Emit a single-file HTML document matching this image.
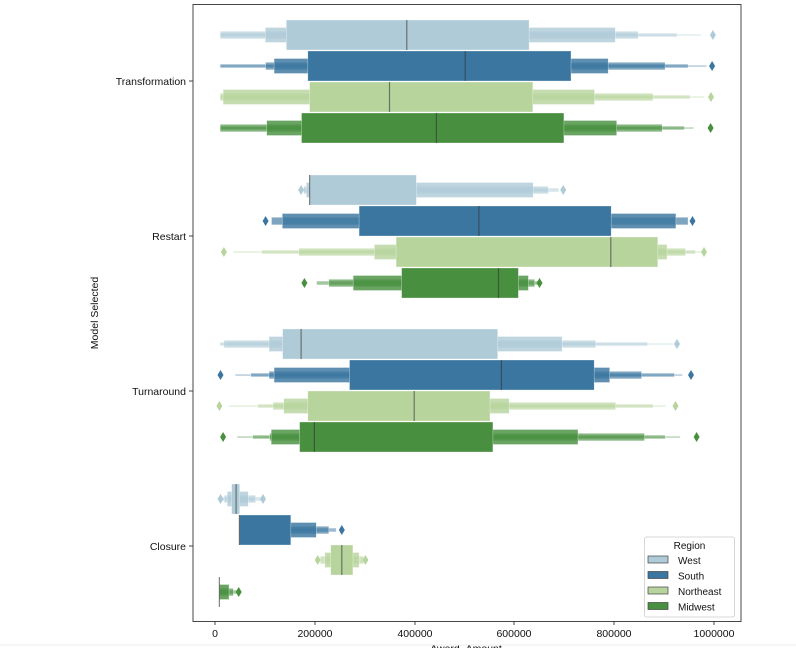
<!DOCTYPE html>
<html><head><meta charset="utf-8"><style>
html,body{margin:0;padding:0;background:#fff;}
svg{display:block;font-family:"Liberation Sans","DejaVu Sans",sans-serif;}
</style></head><body>
<svg id="s" width="796" height="648" viewBox="0 0 796 648" xmlns="http://www.w3.org/2000/svg">
<rect x="0" y="0" width="796" height="648" fill="#fff"/>
<g id="plot"></g>
<rect x="193" y="4.5" width="548" height="617" fill="none" stroke="#333" stroke-width="0.9"/>
<g font-size="10.5" fill="#111" text-anchor="end">
<text x="186" y="85">Transformation</text>
<text x="186" y="240">Restart</text>
<text x="186" y="395">Turnaround</text>
<text x="186" y="550">Closure</text>
</g>
<g stroke="#333" stroke-width="0.9">
<line x1="189" y1="81" x2="193" y2="81"/><line x1="189" y1="236" x2="193" y2="236"/>
<line x1="189" y1="391" x2="193" y2="391"/><line x1="189" y1="546" x2="193" y2="546"/>
<line x1="215" y1="621" x2="215" y2="625"/><line x1="315" y1="621" x2="315" y2="625"/>
<line x1="415" y1="621" x2="415" y2="625"/><line x1="514" y1="621" x2="514" y2="625"/>
<line x1="614" y1="621" x2="614" y2="625"/><line x1="714" y1="621" x2="714" y2="625"/>
</g>
<g font-size="10.5" fill="#111" text-anchor="middle">
<text x="215" y="637">0</text><text x="315" y="637">200000</text><text x="415" y="637">400000</text>
<text x="514" y="637">600000</text><text x="614" y="637">800000</text><text x="714" y="637">1000000</text>
<text x="466" y="652">Award_Amount</text>
<text transform="translate(98,313) rotate(-90)">Model Selected</text>
</g>
<g>
<rect x="644.5" y="537" width="90" height="80" rx="2" fill="#fff" fill-opacity="0.85" stroke="#ccc" stroke-width="0.8"/>
<text x="689.5" y="549" font-size="10" text-anchor="middle" fill="#111">Region</text>
<rect x="648" y="556" width="20" height="7" fill="#b0cbd8" stroke="#444" stroke-width="0.7"/>
<rect x="648" y="571.5" width="20" height="7" fill="#3a76a0" stroke="#444" stroke-width="0.7"/>
<rect x="648" y="587" width="20" height="7" fill="#b7d49d" stroke="#444" stroke-width="0.7"/>
<rect x="648" y="602.5" width="20" height="7" fill="#48903f" stroke="#444" stroke-width="0.7"/>
<g font-size="10" fill="#111">
<text x="678" y="564">West</text><text x="678" y="579.5">South</text>
<text x="678" y="595">Northeast</text><text x="678" y="610.5">Midwest</text>
</g>
</g>
<line x1="0" y1="645" x2="796" y2="645" stroke="#eee"/>
</svg>
<script>
var cols=["#b0cbd8","#3a76a0","#b7d49d","#48903f"];
function px(z){return 215+(z-60)*0.3696;}
var rows=[
[35,0,579,[[253,910],[196,1143],[74,1205],[74,1310],[74,1375]],[1407]],
[66,1,737,[[311,1023],[220,1124],[197,1278],[74,1340],[74,1390]],[1405]],
[97,2,532,[[316,920],[82,1087],[74,1245],[74,1345],[74,1385]],[1402]],
[128,3,659,[[294,1004],[200,1147],[74,1270],[74,1330],[74,1355]],[1401]],
[190,0,316,[[316,605],[307,921],[300,962],[300,990]],[293,1002]],
[221,1,774,[[450,1132],[242,1307],[213,1340]],[197,1352]],
[252,2,1131,[[550,1258],[491,1283],[287,1333],[186,1360],[110,1375]],[84,1383]],
[283,3,827,[[565,881],[434,908],[368,925],[335,935]],[302,938]],
[344,0,293,[[243,825],[206,999],[84,1090],[74,1230],[74,1300]],[1310]],
[375,1,835,[[424,1086],[220,1128],[206,1214],[157,1303],[115,1325]],[75,1348]],
[406,2,599,[[311,804],[246,856],[217,1144],[176,1245],[98,1280]],[72,1306]],
[437,3,329,[[289,812],[212,1042],[208,1222],[162,1278],[120,1318]],[82,1363]],
[499,0,117,[[105,127],[93,150],[85,170],[78,185]],[75,190]],
[530,1,126,[[126,265],[126,334],[126,368],[126,388]],[403]],
[560,2,403,[[373,433],[357,450],[345,462]],[338,467]],
[592,3,72,[[72,72],[72,98],[72,110],[72,120]],[124]]
];
var ops=[1,0.82,0.66,0.5,0.35];
var out="";
rows.forEach(function(r){
  var y=r[0],c=cols[r[1]],lv=r[3];
  for(var k=lv.length-1;k>=0;k--){
    var h=30*Math.pow(0.5,k);
    var x1=px(lv[k][0]),x2=px(lv[k][1]);
    if(x2-x1<0.1) continue;
    out+='<rect x="'+x1.toFixed(1)+'" y="'+(y-h/2).toFixed(1)+'" width="'+(x2-x1).toFixed(1)+'" height="'+h.toFixed(1)+'" fill="'+c+'" fill-opacity="'+ops[k]+'" stroke="#fff" stroke-opacity="0.5" stroke-width="0.6"/>';
  }
  var m=px(r[2]);
  out+='<line x1="'+m.toFixed(1)+'" y1="'+(y-15)+'" x2="'+m.toFixed(1)+'" y2="'+(y+15)+'" stroke="#333" stroke-opacity="0.6" stroke-width="1.2"/>';
  r[4].forEach(function(o){var ox=px(o);
    out+='<path d="M'+ox.toFixed(1)+' '+(y-5)+' L'+(ox+3).toFixed(1)+' '+y+' L'+ox.toFixed(1)+' '+(y+5)+' L'+(ox-3).toFixed(1)+' '+y+' Z" fill="'+c+'"/>';});
});
document.getElementById("plot").innerHTML=out;
</script>
</body></html>
